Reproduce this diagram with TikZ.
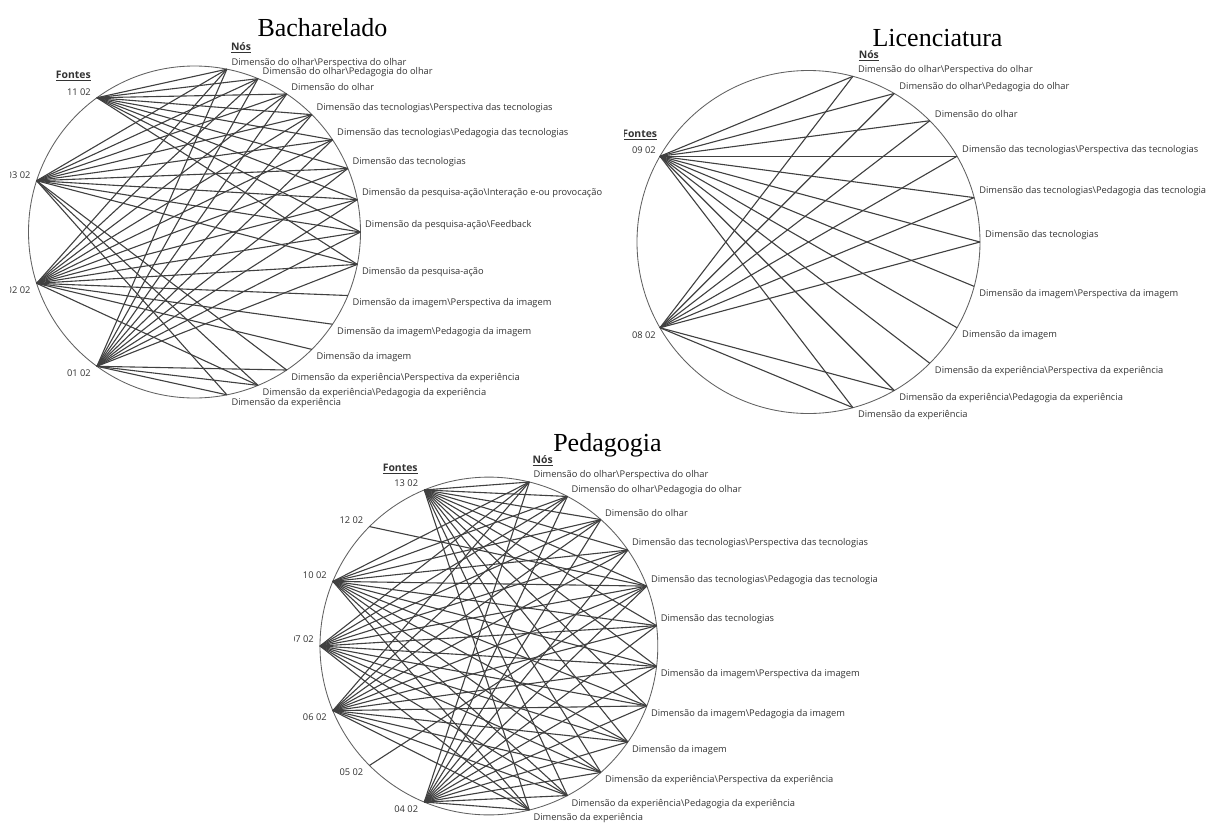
\documentclass[tikz,border=0pt]{standalone}
\usepackage{fontspec}
\setmainfont{Liberation Serif}
\newfontfamily\uifont{Open Sans}
\definecolor{inkgray}{gray}{0.2}
\definecolor{linkgray}{gray}{0.25}
\definecolor{ringgray}{gray}{0.38}
\begin{document}
\begin{tikzpicture}[x=1pt,y=-1pt,
  ring/.style={draw=ringgray,line width=0.85pt},
  link/.style={draw=linkgray,line width=1.1pt},
  heading/.style={font=\fontsize{26}{26}\selectfont,anchor=base,inner sep=0pt},
  nlabel/.style={font=\uifont\fontsize{9.3}{10}\selectfont,text=inkgray,inner sep=0pt},
  colhead/.style={font=\uifont\bfseries\fontsize{10.4}{11}\selectfont,text=inkgray,inner sep=0pt}]
\fill[white] (0,0) rectangle (1219,823);
\useasboundingbox (0,0) rectangle (1219,823);

% ---------------- Bacharelado ----------------
\begin{scope}
  \clip (10,0) rectangle (603,425);
  \node[heading] (b-title) at (322.5,36.7) {Bacharelado};
  \coordinate (b-c) at (194.5,232);
  \draw[ring] (b-c) circle[radius=166];
  \foreach \txt [count=\k] in {%
    Dimensão do olhar\textbackslash Perspectiva do olhar,
    Dimensão do olhar\textbackslash Pedagogia do olhar,
    Dimensão do olhar,
    Dimensão das tecnologias\textbackslash Perspectiva das tecnologias,
    Dimensão das tecnologias\textbackslash Pedagogia das tecnologias,
    Dimensão das tecnologias,
    Dimensão da pesquisa-ação\textbackslash Interação e-ou provocação,
    Dimensão da pesquisa-ação\textbackslash Feedback,
    Dimensão da pesquisa-ação,
    Dimensão da imagem\textbackslash Perspectiva da imagem,
    Dimensão da imagem\textbackslash Pedagogia da imagem,
    Dimensão da imagem,
    Dimensão da experiência\textbackslash Perspectiva da experiência,
    Dimensão da experiência\textbackslash Pedagogia da experiência,
    Dimensão da experiência} {
    \pgfmathsetmacro\ang{90-180/16*\k}
    \pgfmathsetmacro\dy{ifthenelse(\ang>-0.01,-6.5,8)}
    \coordinate (b-n\k) at ({194.5+166*cos(\ang)},{232-166*sin(\ang)});
    \node[nlabel,anchor=west] (b-t\k) at ([shift={(4.5,\dy)}]b-n\k) {\txt};
  }
  \foreach \txt [count=\k] in {11 02,03 02,02 02,01 02} {
    \pgfmathsetmacro\ang{90+36*\k}
    \pgfmathsetmacro\dy{ifthenelse(\ang<180.01,-6,7)}
    \coordinate (b-s\k) at ({194.5+166*cos(\ang)},{232-166*sin(\ang)});
    \node[nlabel,anchor=east] (b-u\k) at ([shift={(-6,\dy)}]b-s\k) {\txt};
  }
  \node[colhead,anchor=base east] (b-fontes) at (91,78.5) {\underline{Fontes}};
  \node[colhead,anchor=base west] (b-nos) at (230.8,50.2) {\underline{Nós}};
  \foreach \s/\lst in {1/{1,2,3,4,5,6,7,8,9},
                       2/{1,2,3,4,5,6,7,8,9,13,14,15},
                       3/{1,2,3,4,5,6,7,8,9,10,11,12,14},
                       4/{1,2,3,4,5,6,7,8,9,13,14,15}}
    {\foreach \n in \lst {\draw[link] (b-s\s) -- (b-n\n);}}
\end{scope}

% ---------------- Licenciatura ----------------
\begin{scope}
  \clip (624,0) rectangle (1219,425);
  \node[heading] (l-title) at (937.5,46.8) {Licenciatura};
  \coordinate (l-c) at (808.5,242);
  \draw[ring] (l-c) circle[radius=171.5];
  \foreach \txt [count=\k] in {%
    Dimensão do olhar\textbackslash Perspectiva do olhar,
    Dimensão do olhar\textbackslash Pedagogia do olhar,
    Dimensão do olhar,
    Dimensão das tecnologias\textbackslash Perspectiva das tecnologias,
    Dimensão das tecnologias\textbackslash Pedagogia das tecnologia,
    Dimensão das tecnologias,
    Dimensão da imagem\textbackslash Perspectiva da imagem,
    Dimensão da imagem,
    Dimensão da experiência\textbackslash Perspectiva da experiência,
    Dimensão da experiência\textbackslash Pedagogia da experiência,
    Dimensão da experiência} {
    \pgfmathsetmacro\ang{90-15*\k}
    \pgfmathsetmacro\dy{ifthenelse(\ang>-0.01,-6.5,7.5)}
    \coordinate (l-n\k) at ({808.5+171.5*cos(\ang)},{242-171.5*sin(\ang)});
    \node[nlabel,anchor=west] (l-t\k) at ([shift={(5,\dy)}]l-n\k) {\txt};
  }
  \foreach \txt [count=\k] in {09 02,08 02} {
    \pgfmathsetmacro\ang{90+60*\k}
    \pgfmathsetmacro\dy{ifthenelse(\ang<180.01,-6,7)}
    \coordinate (l-s\k) at ({808.5+171.5*cos(\ang)},{242-171.5*sin(\ang)});
    \node[nlabel,anchor=east] (l-u\k) at ([shift={(-4,\dy)}]l-s\k) {\txt};
  }
  \node[colhead,anchor=base east] (l-fontes) at (657.3,137.8) {\underline{Fontes}};
  \node[colhead,anchor=base west] (l-nos) at (858.6,58.5) {\underline{Nós}};
  \foreach \s/\lst in {1/{1,2,3,4,5,6,7,8,9,10,11},
                       2/{1,2,3,4,5,6,10,11}}
    {\foreach \n in \lst {\draw[link] (l-s\s) -- (l-n\n);}}
\end{scope}

% ---------------- Pedagogia ----------------
\begin{scope}
  \clip (294,425) rectangle (1219,823);
  \node[heading] (p-title) at (607.4,451.5) {Pedagogia};
  \coordinate (p-c) at (488.9,646);
  \draw[ring] (p-c) circle[radius=168.9];
  \foreach \txt [count=\k] in {%
    Dimensão do olhar\textbackslash Perspectiva do olhar,
    Dimensão do olhar\textbackslash Pedagogia do olhar,
    Dimensão do olhar,
    Dimensão das tecnologias\textbackslash Perspectiva das tecnologias,
    Dimensão das tecnologias\textbackslash Pedagogia das tecnologia,
    Dimensão das tecnologias,
    Dimensão da imagem\textbackslash Perspectiva da imagem,
    Dimensão da imagem\textbackslash Pedagogia da imagem,
    Dimensão da imagem,
    Dimensão da experiência\textbackslash Perspectiva da experiência,
    Dimensão da experiência\textbackslash Pedagogia da experiência,
    Dimensão da experiência} {
    \pgfmathsetmacro\ang{90-180/13*\k}
    \pgfmathsetmacro\dy{ifthenelse(\ang>-0.01,-6.5,8)}
    \coordinate (p-n\k) at ({488.9+168.9*cos(\ang)},{646-168.9*sin(\ang)});
    \node[nlabel,anchor=west] (p-t\k) at ([shift={(4,\dy)}]p-n\k) {\txt};
  }
  \foreach \txt [count=\k] in {13 02,12 02,10 02,07 02,06 02,05 02,04 02} {
    \pgfmathsetmacro\ang{90+22.5*\k}
    \pgfmathsetmacro\dy{ifthenelse(\ang<180.01,-6.5,7)}
    \coordinate (p-s\k) at ({488.9+168.9*cos(\ang)},{646-168.9*sin(\ang)});
    \node[nlabel,anchor=east] (p-u\k) at ([shift={(-6,\dy)}]p-s\k) {\txt};
  }
  \node[colhead,anchor=base east] (p-fontes) at (417.8,471.2) {\underline{Fontes}};
  \node[colhead,anchor=base west] (p-nos) at (532.5,463.5) {\underline{Nós}};
  \foreach \s/\lst in {1/{1,2,3,4,5,6,7,8,9,10,11,12},
                       2/{5},
                       3/{1,2,3,4,5,6,7,8,9,10,11,12},
                       4/{1,2,3,4,5,6,7,8,9,10,11,12},
                       5/{1,2,3,4,5,6,7,8,9,10,11,12},
                       6/{5},
                       7/{1,2,3,4,5,6,7,8,9,10,11,12}}
    {\foreach \n in \lst {\draw[link] (p-s\s) -- (p-n\n);}}
\end{scope}
\end{tikzpicture}
\end{document}
